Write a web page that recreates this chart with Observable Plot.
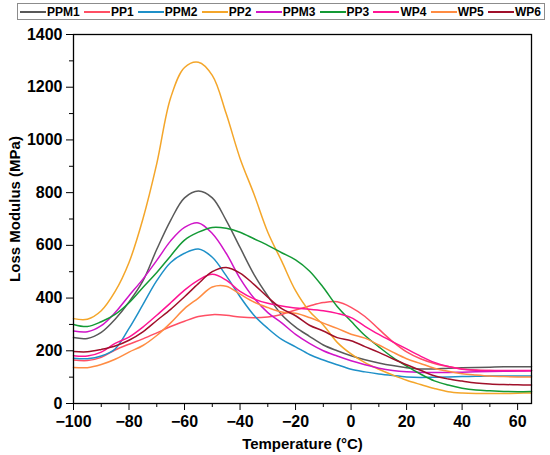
<!DOCTYPE html>
<html>
<head>
<meta charset="utf-8">
<script src="https://cdn.jsdelivr.net/npm/d3@7"></script>
<script src="https://cdn.jsdelivr.net/npm/@observablehq/plot@0.6"></script>
<style>
  html, body { margin: 0; padding: 0; background: #fff; }
  #wrap { position: relative; width: 550px; height: 455px; font-family: "Liberation Sans", Arial, sans-serif; }
  #legend { position: absolute; left: 17px; top: 3px; width: 528px; height: 17px; box-sizing: border-box;
            border: 1px solid #8c8c8c; display: flex; align-items: center; justify-content: space-between;
            padding: 0 3px 0 2px; font: bold 12px "Liberation Sans", Arial, sans-serif; color: #000; }
  .item { display: flex; align-items: center; }
  .swatch { width: 26px; height: 2px; margin-right: 1px; }
  #chart { position: absolute; left: 0; top: 22px; }
  #chart svg { display: block; }
</style>
</head>
<body>
<div id="wrap">
  <div id="legend"></div>
  <div id="chart"></div>
</div>
<script>
// Temperatures (°C) shared by every series
const temps = [-100,-95,-90,-85,-80,-75,-70,-65,-60,-55,-50,-45,-40,-35,-30,-25,-20,-15,-10,-5,0,5,10,15,20,25,30,35,40,45,50,55,60,65];

// Loss modulus (MPa) per series
const ppm1 = [250,247,270,320,385,465,585,695,780,806,780,695,592,490,408,337,290,255,222,200,181,166,154,144,136,131,131,134,136,137,138,139,139,139];
const pp1  = [165,163,175,203,225,245,268,292,312,330,337,335,328,325,328,338,355,370,383,386,365,330,282,235,196,170,152,140,131,127,125,124,124,124];
const ppm2 = [172,170,180,207,285,375,466,535,570,586,555,485,405,335,285,243,215,186,165,147,130,120,112,106,101,99,100,101,102,103,104,104,104,104];
const pp2  = [322,320,352,425,535,700,910,1160,1275,1295,1245,1100,930,795,650,540,428,350,298,232,188,155,130,108,88,72,57,45,40,38,38,38,39,40];
const ppm3 = [275,272,295,345,409,472,543,617,668,685,645,570,475,400,345,306,262,228,200,180,162,147,134,125,120,118,118,118,119,120,121,122,123,124];
const pp3  = [300,292,310,338,382,440,497,560,620,650,668,665,650,625,600,572,545,503,440,368,312,258,215,175,142,112,86,70,58,51,48,46,45,46];
const wp4  = [181,180,195,228,252,290,335,382,430,468,490,468,425,397,380,370,362,358,352,342,326,293,262,234,207,180,156,140,130,126,125,125,125,125];
const wp5  = [137,136,148,168,195,220,258,306,360,400,442,445,415,385,364,347,342,326,305,285,263,248,222,195,170,152,134,122,113,108,104,102,101,101];
const wp6  = [197,196,205,218,240,272,315,357,405,455,500,516,495,452,403,360,333,297,275,250,238,216,194,170,147,126,105,93,85,78,74,72,71,70];

const seriesNames  = ["PPM1","PP1","PPM2","PP2","PPM3","PP3","WP4","WP5","WP6"];
const seriesValues = [ppm1, pp1, ppm2, pp2, ppm3, pp3, wp4, wp5, wp6];
const seriesColors = ["#595959","#FF4F64","#1E90C8","#F4A62A","#D014C8","#139A35","#FF1493","#FF8C42","#A0102A"];

// Tick values
const xMajor = [-100,-80,-60,-40,-20,0,20,40,60];
const xMinor = [-90,-70,-50,-30,-10,10,30,50];
const yMajor = [0,200,400,600,800,1000,1200,1400];
const yMinor = [100,300,500,700,900,1100,1300];

const rows = [];
seriesNames.forEach((name, i) => {
  temps.forEach((t, j) => rows.push({series: name, t, v: seriesValues[i][j]}));
});

// Legend
const legend = document.getElementById("legend");
seriesNames.forEach((name, i) => {
  const item = document.createElement("span");
  item.className = "item";
  const sw = document.createElement("span");
  sw.className = "swatch";
  sw.style.background = seriesColors[i];
  const label = document.createElement("span");
  label.textContent = name;
  item.appendChild(sw);
  item.appendChild(label);
  legend.appendChild(item);
});

const chart = Plot.plot({
  width: 550,
  height: 433,
  marginLeft: 73,
  marginRight: 19,
  marginTop: 12,
  marginBottom: 52,
  style: {fontFamily: "'Liberation Sans', Arial, sans-serif", fontSize: "16px", fontWeight: "bold", color: "#000", background: "#fff"},
  x: {domain: [-100, 65]},
  y: {domain: [0, 1400]},
  color: {domain: seriesNames, range: seriesColors},
  marks: [
    Plot.line(rows, {x: "t", y: "v", z: "series", stroke: "series", strokeWidth: 1.5, curve: "catmull-rom"}),
    Plot.frame({stroke: "#000", strokeWidth: 1.3}),
    Plot.axisX(xMajor, {tickSize: 7, tickPadding: 5, label: null}),
    Plot.axisX(xMinor, {tickSize: 4, tickFormat: () => "", label: null}),
    Plot.axisY(yMajor, {tickSize: 7, tickPadding: 4, tickFormat: d => String(d), label: null}),
    Plot.axisY(yMinor, {tickSize: 4, tickFormat: () => "", label: null}),
    Plot.text(["Loss Modulus (MPa)"], {frameAnchor: "left", textAnchor: "middle", lineAnchor: "middle", rotate: -90, dx: -58, dy: -10, fontSize: 15, fontWeight: "bold"}),
    Plot.text(["Temperature (°C)"], {frameAnchor: "bottom", textAnchor: "middle", lineAnchor: "middle", dy: 41, fontSize: 15, fontWeight: "bold"})
  ]
});
document.getElementById("chart").appendChild(chart);
</script>
</body>
</html>
